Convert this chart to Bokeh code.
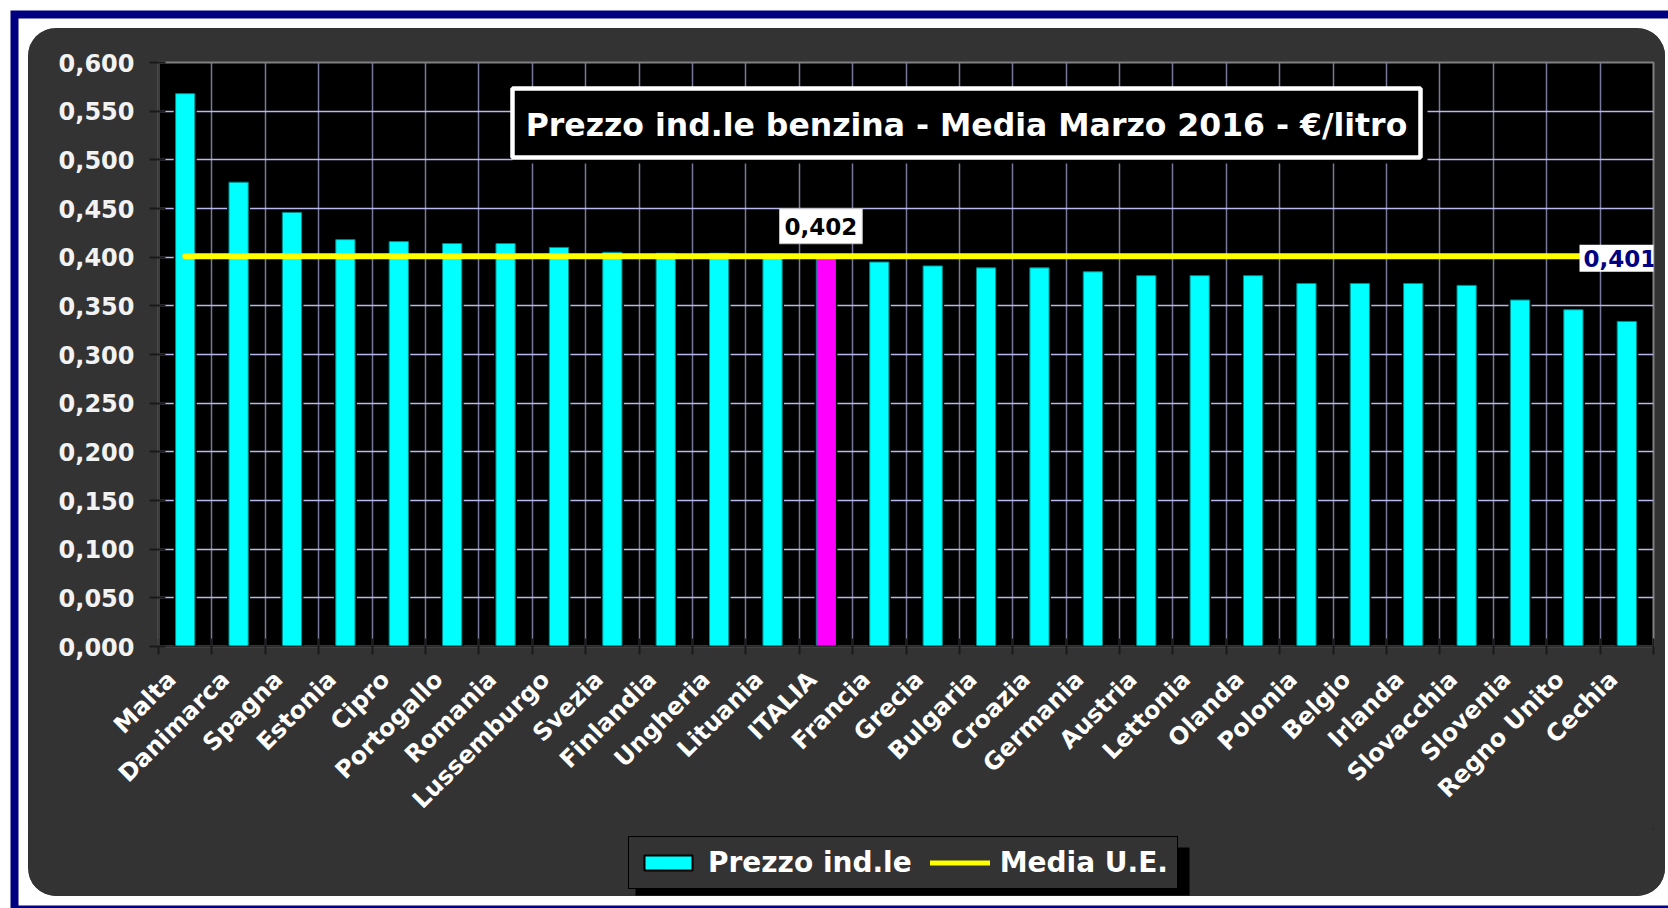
from math import pi
from bokeh.plotting import figure
from bokeh.layouts import column
from bokeh.models import (Range1d, FixedTicker, BoxAnnotation, Label, Legend,
                          LegendItem, ColumnDataSource)
from bokeh.embed import file_html
from bokeh.resources import INLINE

# ---------------- data ----------------
countries = ["Malta", "Danimarca", "Spagna", "Estonia", "Cipro", "Portogallo",
             "Romania", "Lussemburgo", "Svezia", "Finlandia", "Ungheria",
             "Lituania", "ITALIA", "Francia", "Grecia", "Bulgaria", "Croazia",
             "Germania", "Austria", "Lettonia", "Olanda", "Polonia", "Belgio",
             "Irlanda", "Slovacchia", "Slovenia", "Regno Unito", "Cechia"]
prezzo = [0.568, 0.477, 0.446, 0.418, 0.416, 0.414, 0.414, 0.410, 0.405,
          0.404, 0.404, 0.403, 0.402, 0.395, 0.391, 0.389, 0.389, 0.385,
          0.381, 0.381, 0.381, 0.373, 0.373, 0.373, 0.371, 0.356, 0.346,
          0.334]
media_ue = [0.401] * len(countries)
highlight = "ITALIA"
y_ticks = [0.0, 0.05, 0.1, 0.15, 0.2, 0.25, 0.3, 0.35, 0.4, 0.45, 0.5, 0.55, 0.6]
y_tick_labels = ["0,000", "0,050", "0,100", "0,150", "0,200", "0,250", "0,300",
                 "0,350", "0,400", "0,450", "0,500", "0,550", "0,600"]
title_text = "Prezzo ind.le benzina - Media Marzo 2016 - €/litro"
series_names = ["Prezzo ind.le", "Media U.E."]

FONT = "DejaVu Sans"
CYAN, MAGENTA, YELLOW = "#00ffff", "#ff00ff", "#ffff00"
BG = "#333333"

# ---------------- layout ----------------
OX, OY = 28, 28            # figure offset on the page
W, H1, H2 = 1637, 800, 68
FL, FT, FW, FH = 130, 34, 1495, 584
FR = W - FL - FW
FB = FT + FH
LABEL_SHIFT = 0.25         # category labels sit a little left of the bar centre


def sx(px):  # page x -> screen units relative to frame left
    return px - OX - FL


def sy(py):  # page y -> screen units relative to frame bottom (upwards)
    return FB - (py - OY)


n = len(countries)
xs = [i + 0.5 for i in range(n)]
colors = [MAGENTA if c == highlight else CYAN for c in countries]
source = ColumnDataSource(dict(x=xs, country=countries, prezzo=prezzo,
                               media=media_ue, color=colors))

p = figure(width=W, height=H1, x_range=Range1d(0, n), y_range=Range1d(0, 0.6),
           output_backend="svg", toolbar_location=None,
           min_border_left=FL, min_border_top=FT,
           min_border_right=FR, min_border_bottom=H1 - FT - FH,
           background_fill_color="black", border_fill_color=BG,
           outline_line_color="#808080", outline_line_width=2)


def box(l, t, r, b, level="annotation", **kw):
    return BoxAnnotation(left=sx(l), right=sx(r), top=sy(t), bottom=sy(b),
                         left_units="screen", right_units="screen",
                         top_units="screen", bottom_units="screen",
                         level=level, **kw)


# grids
p.xgrid.ticker = FixedTicker(ticks=list(range(1, n)))
p.xgrid.grid_line_color = "#78789c"
p.xgrid.grid_line_width = 1.5
p.ygrid.ticker = FixedTicker(ticks=y_ticks)
p.ygrid.grid_line_color = "#b8b8ec"
p.ygrid.grid_line_width = 1.5

# bars
p.vbar(x="x", top="prezzo", width=0.43, source=source, fill_color="black",
       line_color=None)
bars = p.vbar(x="x", top="prezzo", width=0.36, source=source,
              fill_color="color", line_color="#008b8b", line_width=1)
line = p.line(x="x", y="media", source=source, line_color=YELLOW,
              line_width=6, line_cap="round")

# axes
label_pos = [x - LABEL_SHIFT for x in xs]
xa = p.xaxis[0]
xa.ticker = FixedTicker(ticks=label_pos, minor_ticks=list(range(n + 1)))
xa.major_label_overrides = {x: c for x, c in zip(label_pos, countries)}
xa.major_label_orientation = pi / 4
xa.major_tick_line_color = None
xa.major_tick_in = 0
xa.major_tick_out = 8
xa.minor_tick_line_color = "#1a1a1a"
xa.minor_tick_line_width = 2
xa.minor_tick_in = 8
xa.minor_tick_out = 8
xa.axis_line_color = "#2a2a2a"
xa.axis_line_width = 2
xa.major_label_text_color = "white"
xa.major_label_text_font = FONT
xa.major_label_text_font_style = "bold"
xa.major_label_text_font_size = "24px"
xa.major_label_standoff = 21

ya = p.yaxis[0]
ya.ticker = FixedTicker(ticks=y_ticks)
ya.major_label_overrides = dict(zip(y_ticks, y_tick_labels))
ya.major_tick_in = 7
ya.major_tick_out = 9
ya.major_tick_line_color = "#1a1a1a"
ya.major_tick_line_width = 2
ya.minor_tick_line_color = None
ya.axis_line_color = "#3a3a3a"
ya.axis_line_width = 2
ya.major_label_text_color = "#f2f2f2"
ya.major_label_text_font = FONT
ya.major_label_text_font_style = "bold"
ya.major_label_text_font_size = "24px"
ya.major_label_standoff = 15

# title box
p.add_layout(box(512, 88, 1427, 163, fill_color="black", fill_alpha=1,
                 line_color=None))
p.add_layout(box(512, 88, 1420, 157, fill_color="black", fill_alpha=1,
                 line_color="white", line_alpha=1, line_width=4.5))
p.add_layout(Label(x=sx(966), y=sy(124), x_units="screen", y_units="screen",
                   text=title_text, text_align="center", text_baseline="middle",
                   text_font=FONT, text_font_style="bold",
                   text_font_size="31.5px", text_color="white"))

# data labels
i_hl = countries.index(highlight)
p.add_layout(Label(x=xs[i_hl], y=prezzo[i_hl], x_offset=-5, y_offset=29,
                   text=f"{prezzo[i_hl]:.3f}".replace(".", ","),
                   text_align="center", text_baseline="middle",
                   text_font=FONT, text_font_style="bold",
                   text_font_size="23px", text_color="black",
                   background_fill_color="white", background_fill_alpha=1,
                   border_line_color="#bfbfbf", border_line_width=1,
                   padding=(5, 9)))
p.add_layout(Label(x=sx(1579), y=media_ue[-1], x_units="screen", y_offset=-2,
                   text=f"{media_ue[-1]:.3f}".replace(".", ","),
                   text_align="left", text_baseline="middle",
                   text_font=FONT, text_font_style="bold",
                   text_font_size="23px", text_color="#000080",
                   background_fill_color="white", background_fill_alpha=1,
                   padding=(4, 5)))

# ---------------- legend strip (second figure, same dark panel) ----------------
LTOP = OY + H1                     # page y of the legend strip top
lf = figure(width=W, height=H2, x_range=Range1d(0, 1), y_range=Range1d(0, 1),
            x_axis_type=None, y_axis_type=None, output_backend="svg",
            toolbar_location=None, min_border_left=FL, min_border_right=FR,
            min_border_top=0, min_border_bottom=0,
            background_fill_color=BG, border_fill_color=BG)
lf.outline_line_color = None
lf.grid.visible = False


def lx(px):
    return px - OX - FL


def ly(py):
    return H2 - (py - LTOP)


# legend shadow
lf.add_layout(BoxAnnotation(left=lx(635), right=lx(1189), top=ly(847),
                            bottom=ly(895), left_units="screen",
                            right_units="screen", top_units="screen",
                            bottom_units="screen", fill_color="black",
                            fill_alpha=1, line_color=None, level="underlay"))
# legend swatches (kept outside the strip's visible range)
lg_bar = lf.vbar(x=[5], top=[5], bottom=[4], width=0.1, fill_color=CYAN,
                 line_color="black", line_width=2)
lg_line = lf.line(x=[5, 6], y=[5, 5], line_color=YELLOW, line_width=5,
                  line_cap="round")
legend = Legend(items=[LegendItem(label=series_names[0], renderers=[lg_bar]),
                       LegendItem(label=series_names[1], renderers=[lg_line])],
                orientation="horizontal",
                location=(lx(628), ly(889)),
                background_fill_color=BG, background_fill_alpha=1,
                border_line_color="black", border_line_width=1.5,
                border_line_alpha=1,
                label_text_color="white", label_text_font=FONT,
                label_text_font_style="bold", label_text_font_size="28px",
                glyph_width=60, glyph_height=19, label_height=29,
                padding=9, spacing=18, label_standoff=10, margin=0)
lf.add_layout(legend, "center")

panel = column(p, lf, spacing=0,
               styles={"background-color": BG,
                       "clip-path": "inset(0 round 28px)"})
layout = column(panel, margin=(OY, 0, 0, OX),
                styles={"box-shadow": "0 0 0 9.5px white, 0 0 0 17.5px #000080"})

open("out.html", "w").write(file_html(layout, INLINE))
